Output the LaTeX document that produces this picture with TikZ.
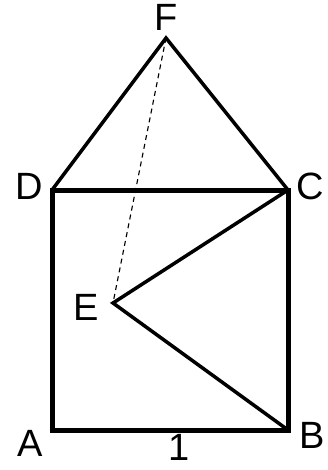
\documentclass[tikz,border=0pt]{standalone}
\usepackage{fontspec}
\setmainfont{Liberation Sans}
\usepackage{tikz}
\usetikzlibrary{positioning}

\tikzset{
    lbl/.style={inner sep=0pt, anchor=base, font=\fontsize{38}{38}\selectfont},
    sq/.style={line width=5pt, line join=miter},
    tri/.style={line width=3.5pt, line join=miter},
}

\begin{document}
\begin{tikzpicture}[x=1pt, y=-1pt]
    \useasboundingbox (0,0) rectangle (327,470);
    \coordinate (A) at (52,430);
    \coordinate (B) at (288,430);
    \coordinate (C) at (288,190);
    \coordinate (D) at (52,190);
    \coordinate (E) at (113,303);
    \coordinate (F) at (166,38);

    \draw[line width=1.1pt, dash pattern=on 5pt off 4pt] (F) -- (E);
    \draw[tri] (D) -- (F) -- (C);
    \draw[tri] (C) -- (E) -- (B);
    \draw[sq] (A) -- (B) -- (C) -- (D) -- cycle;

    \node[lbl] (lA) at (30,456) {A};
    \node[lbl] (lB) at (312,448) {B};
    \node[lbl] (lC) at (310,200) {C};
    \node[lbl] (lD) at (29,200) {D};
    \node[lbl] (lE) at (86,320) {E};
    \node[lbl] (lF) at (166,31) {F};
    \node[lbl] (side) at (179,460) {1};
\end{tikzpicture}
\end{document}
